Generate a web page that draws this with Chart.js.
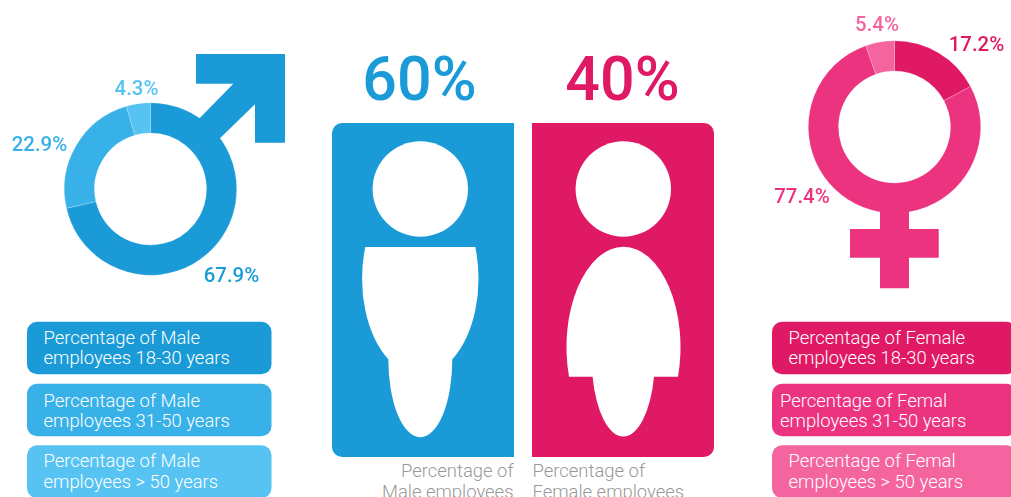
<!DOCTYPE html>
<html>
<head>
<meta charset="utf-8">
<title>Employees by gender and age</title>
<script src="https://cdn.jsdelivr.net/npm/chart.js@4"></script>
<style>
  html, body { margin: 0; background: #fff; overflow: hidden; }
  #page { position: relative; width: 1011px; height: 497px; overflow: hidden; }
  #page svg { position: absolute; left: 0; top: 0; }
  #page canvas { position: absolute; }
  #maleBox { position: absolute; left: 0; top: 60px; width: 300px; height: 230px; }
  #femaleBox { position: absolute; left: 760px; top: 0; width: 251px; height: 230px; }
  text { font-family: Roboto, sans-serif; }
</style>
</head>
<body>
<div id="page">
  <svg id="back" width="1011" height="497">
    <path fill="#1a9bd8" d="M514 123H342a10 10 0 0 0-10 10V447a10 10 0 0 0 10 10H514Z"/>
    <path fill="#e01965" d="M532 123H704a10 10 0 0 1 10 10V447a10 10 0 0 1-10 10H532Z"/>
    <circle cx="420.3" cy="189" r="47.7" fill="#fff"/>
    <circle cx="623.3" cy="189" r="47.7" fill="#fff"/>
    <path fill="#fff" d="M365.3 247H475.3A57.3 96 0 0 1 452.3 359.3A32 78 0 0 1 388.3 359.3A57.3 96 0 0 1 365.3 247Z"/>
    <path fill="#fff" d="M569 376.7A57 100.5 0 1 1 678 376.7H654A31.5 77 0 0 1 592.6 376.7Z"/>
    <g id="boxes"></g>
    <g id="texts"></g>
  </svg>
  <div id="maleBox"><canvas id="maleChart"></canvas></div>
  <div id="femaleBox"><canvas id="femaleChart"></canvas></div>
  <svg id="front" width="1011" height="497" style="pointer-events:none">
    <!-- gender symbols sit over the rings so the joints stay seamless -->
    <path fill="#1a9bd8" d="M196 54H285V142.7H255V104.3L212 146L191 127L233.3 83.7H196Z"/>
    <path fill="#ec3380" d="M880 200H909V229H938.7V257.7H909V288.3H880V257.7H850V229H880Z"/>
  </svg>
</div>

<script>
const maleLabels = ["18-30 years", "31-50 years", "> 50 years"];
const maleValues = [67.9, 22.9, 4.3];
const maleColors = ["#1a9bd8", "#37b1e8", "#56c3f3"];

const femaleLabels = ["18-30 years", "31-50 years", "> 50 years"];
const femaleValues = [17.2, 77.4, 5.4];
const femaleColors = ["#e01965", "#ec3380", "#f4659f"];

const genderShare = [60, 40];

const maleBoxLines = [
  ["Percentage of Male", "employees 18-30 years"],
  ["Percentage of Male", "employees 31-50 years"],
  ["Percentage of Male", "employees > 50 years"],
];
const femaleBoxLines = [
  ["Percentage of Female", "employees 18-30 years"],
  ["Percentage of Femal", "employees 31-50 years"],
  ["Percentage of Femal", "employees > 50 years"],
];

const SVG_NS = "http://www.w3.org/2000/svg";
const boxesEl = document.getElementById("boxes");
const textsEl = document.getElementById("texts");

function addText(str, x, y, attrs) {
  const t = document.createElementNS(SVG_NS, "text");
  t.setAttribute("x", x);
  t.setAttribute("y", y);
  for (const k in attrs) t.setAttribute(k, attrs[k]);
  t.textContent = str;
  textsEl.appendChild(t);
}

function addBox(x, y, w, h, color) {
  const r = document.createElementNS(SVG_NS, "rect");
  r.setAttribute("x", x);
  r.setAttribute("y", y);
  r.setAttribute("width", w);
  r.setAttribute("height", h);
  r.setAttribute("rx", 10);
  r.setAttribute("fill", color);
  boxesEl.appendChild(r);
}

// legend boxes under each ring
const boxTops = [321.7, 383.7, 445.3];
const boxBaselines = [[343.5, 364.3], [406.6, 427.3], [466.7, 487.6]];
const boxText = { fill: "#fff", "font-size": 18.45, "font-weight": 300 };
boxTops.forEach((top, i) => {
  addBox(27, top, 244.5, 52.6, maleColors[i]);
  addText(maleBoxLines[i][0], 43.5, boxBaselines[i][0], boxText);
  addText(maleBoxLines[i][1], 43.5, boxBaselines[i][1], boxText);

  addBox(772, top, 244, 52.6, femaleColors[i]);
  const textX = i === 1 ? 780 : 788.5;
  addText(femaleBoxLines[i][0], textX, boxBaselines[i][0], boxText);
  addText(femaleBoxLines[i][1], textX, boxBaselines[i][1], boxText);
});

// headline shares above the two panels
const bigText = { "font-size": 61, "font-weight": 500, "text-anchor": "middle" };
addText(genderShare[0] + "%", 419.5, 100, { ...bigText, fill: maleColors[0] });
addText(genderShare[1] + "%", 622.5, 100, { ...bigText, fill: femaleColors[0] });

// captions below the panels
const captionText = { fill: "#999", "font-size": 18.45, "font-weight": 300 };
addText("Percentage of", 513.5, 477, { ...captionText, "text-anchor": "end" });
addText("Male employees", 513.5, 498, { ...captionText, "text-anchor": "end" });
addText("Percentage of", 532.5, 477, captionText);
addText("Female employees", 532.5, 498, captionText);

// writes each slice's value next to the ring
const valueLabels = {
  id: "valueLabels",
  afterDraw(chart, args, opts) {
    const ctx = chart.ctx;
    const values = chart.data.datasets[0].data;
    ctx.save();
    ctx.font = "500 20.4px Roboto, sans-serif";
    ctx.textAlign = "center";
    ctx.textBaseline = "alphabetic";
    values.forEach((v, i) => {
      ctx.fillStyle = opts.colors[i];
      ctx.fillText(v.toFixed(1) + "%", opts.spots[i][0], opts.spots[i][1]);
    });
    ctx.restore();
  },
};

function makeRing(id, labels, values, colors, padding, spots, labelColors) {
  new Chart(document.getElementById(id), {
    type: "doughnut",
    data: {
      labels,
      datasets: [
        {
          data: values,
          backgroundColor: colors,
          borderColor: "rgba(255, 255, 255, 0.35)",
          borderWidth: 0.6,
        },
      ],
    },
    plugins: [valueLabels],
    options: {
      responsive: true,
      maintainAspectRatio: false,
      animation: false,
      cutout: "65%",
      layout: { padding },
      plugins: {
        legend: { display: false },
        tooltip: { enabled: false },
        valueLabels: { spots, colors: labelColors },
      },
    },
  });
}

makeRing(
  "maleChart",
  maleLabels,
  maleValues,
  maleColors,
  { left: 64, right: 63, top: 42.5, bottom: 14.5 },
  [[231.5, 222], [39.5, 90.5], [136.5, 35]],
  ["#1a9bd8", "#37b1e8", "#56c3f3"]
);

makeRing(
  "femaleChart",
  femaleLabels,
  femaleValues,
  femaleColors,
  { left: 48, right: 30, top: 40.5, bottom: 16.5 },
  [[216.5, 51], [42, 203], [117, 31]],
  ["#e01965", "#ec3380", "#f4659f"]
);
</script>
</body>
</html>
